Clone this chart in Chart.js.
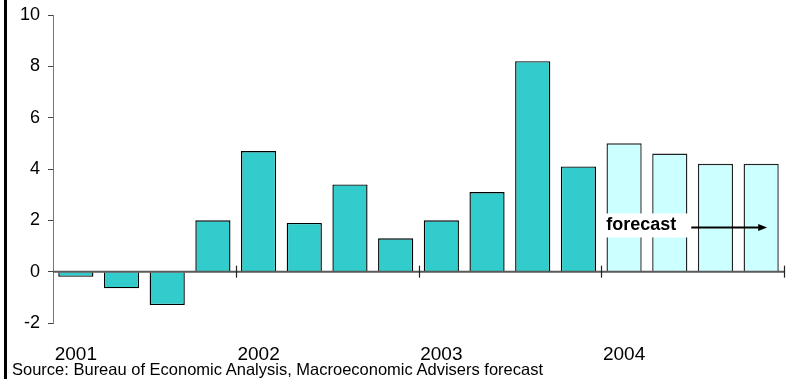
<!DOCTYPE html>
<html>
<head>
<meta charset="utf-8">
<script src="https://cdn.jsdelivr.net/npm/chart.js@4/dist/chart.umd.min.js"></script>
<style>
  html, body { margin: 0; padding: 0; background: #fff; }
  #wrap { position: relative; width: 796px; height: 379px; overflow: hidden; }
  #frame { position: absolute; left: 4px; top: 0; width: 3px; height: 379px; background: #000; }
  #source { position: absolute; left: 12px; top: 361px; font: 16.5px "Liberation Sans", Arial, sans-serif; line-height: 16.5px; color: #000; white-space: nowrap; }
</style>
</head>
<body>
<div id="wrap">
  <canvas id="c" width="796" height="379"></canvas>
  <div id="frame"></div>
  <div id="source">Source: Bureau of Economic Analysis, Macroeconomic Advisers forecast</div>
</div>
<script>
// Quarterly growth, annualized percent
const quarters = ['2001 Q1','2001 Q2','2001 Q3','2001 Q4',
                  '2002 Q1','2002 Q2','2002 Q3','2002 Q4',
                  '2003 Q1','2003 Q2','2003 Q3','2003 Q4',
                  '2004 Q1','2004 Q2','2004 Q3','2004 Q4'];
const growth = [-0.2, -0.65, -1.3, 2.0, 4.7, 1.9, 3.4, 1.3, 2.0, 3.1, 8.2, 4.1, 5.0, 4.6, 4.2, 4.2];
const forecastStart = 12;           // first forecast quarter
const yearLabels = ['2001', '2002', '2003', '2004'];
const yTicks = [-2, 0, 2, 4, 6, 8, 10];
const forecastText = 'forecast';

const ACTUAL = '#33CCCC';
const FORECAST = '#CCFFFF';
const FONT = '"Liberation Sans", Arial, sans-serif';

// zero line, year separators and the forecast arrow
const overlay = {
  id: 'overlay',
  afterDatasetsDraw(chart) {
    const { ctx, scales: { x, y } } = chart;
    const y0 = y.getPixelForValue(0);
    const left = chart.chartArea.left, right = chart.chartArea.right;
    ctx.save();
    ctx.strokeStyle = '#5a5a5a';
    ctx.lineWidth = 2;
    ctx.beginPath();
    ctx.moveTo(left, y0);
    ctx.lineTo(right, y0);
    ctx.stroke();
    // separator ticks between years
    ctx.lineWidth = 1.2;
    ctx.strokeStyle = '#222';
    const half = (x.getPixelForValue(1) - x.getPixelForValue(0)) / 2;
    for (let i = 4; i <= quarters.length; i += 4) {
      const px = Math.round(x.getPixelForValue(i - 1) + half) + 0.5;
      ctx.beginPath();
      ctx.moveTo(px, y0 - 6);
      ctx.lineTo(px, y0 + 6);
      ctx.stroke();
    }
    // forecast label with white backing
    const bx = x.getPixelForValue(forecastStart) - half - 5;
    const ty = y.getPixelForValue(1.8);
    ctx.font = 'bold 18px ' + FONT;
    const tw = ctx.measureText(forecastText).width;
    ctx.fillStyle = '#fff';
    ctx.fillRect(bx, ty - 12, tw + 23, 24);
    ctx.fillStyle = '#000';
    ctx.textBaseline = 'middle';
    ctx.textAlign = 'left';
    ctx.fillText(forecastText, bx + 10, ty);
    // arrow
    const ax0 = bx + tw + 25;
    const ax1 = x.getPixelForValue(quarters.length - 1) + 6;
    const ay = ty + 2;
    ctx.strokeStyle = '#000';
    ctx.lineWidth = 2;
    ctx.beginPath();
    ctx.moveTo(ax0, ay);
    ctx.lineTo(ax1 - 7, ay);
    ctx.stroke();
    ctx.fillStyle = '#000';
    ctx.beginPath();
    ctx.moveTo(ax1, ay);
    ctx.lineTo(ax1 - 9, ay - 3.5);
    ctx.lineTo(ax1 - 9, ay + 3.5);
    ctx.closePath();
    ctx.fill();
    ctx.restore();
  }
};

new Chart(document.getElementById('c'), {
  type: 'bar',
  data: {
    labels: quarters,
    datasets: [{
      data: growth,
      backgroundColor: growth.map((v, i) => i >= forecastStart ? FORECAST : ACTUAL),
      borderColor: growth.map((v, i) => i >= forecastStart ? '#222' : '#000'),
      borderWidth: 1.4,
      barPercentage: 0.77,
      categoryPercentage: 1
    }]
  },
  options: {
    responsive: false,
    animation: false,
    events: [],
    layout: { padding: { top: 15, right: 12, bottom: 0, left: 0 } },
    plugins: { legend: { display: false }, tooltip: { enabled: false } },
    scales: {
      x: {
        grid: { display: false, drawTicks: false },
        border: { display: false },
        ticks: {
          autoSkip: false,
          maxRotation: 0,
          padding: 20,
          color: '#000',
          font: { family: FONT, size: 19 },
          callback: (v, i) => (i % 4 === 0 ? yearLabels[i / 4] : '')
        },
        afterFit: s => { s.height = 56; s.paddingLeft = 0; s.paddingRight = 0; }
      },
      y: {
        min: -2,
        max: 10,
        afterBuildTicks: s => { s.ticks = yTicks.map(v => ({ value: v })); },
        grid: { drawOnChartArea: false, drawTicks: true, tickLength: 5, color: '#444' },
        border: { display: true, color: '#777', width: 1 },
        ticks: {
          padding: 8,
          color: '#000',
          font: { family: FONT, size: 18 }
        },
        afterFit: s => { s.width = 53; s.paddingTop = 0; s.paddingBottom = 0; }
      }
    }
  },
  plugins: [overlay]
});
</script>
</body>
</html>
